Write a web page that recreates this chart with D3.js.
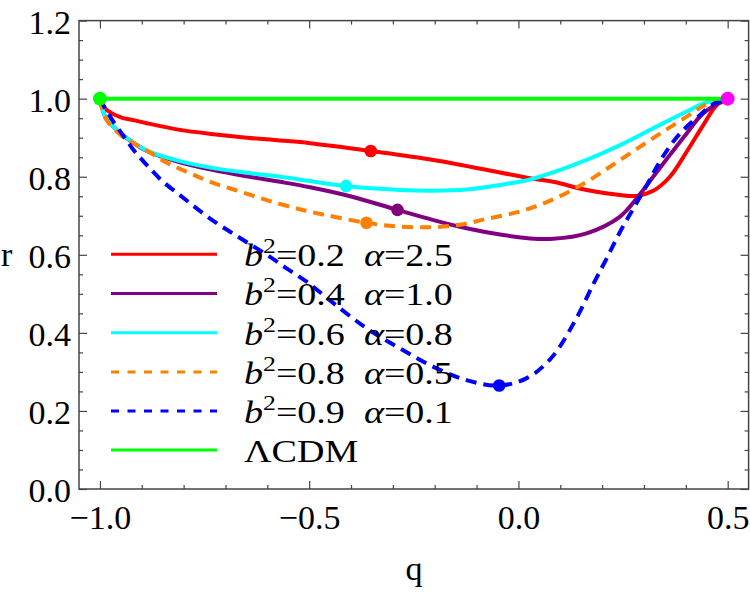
<!DOCTYPE html>
<html><head><meta charset="utf-8">
<script src="https://cdn.jsdelivr.net/npm/d3@7"></script>
<style>body{margin:0;background:#fff}svg{display:block}text{font-family:"Liberation Serif","Times New Roman",serif;fill:#000}</style>
</head><body>
<svg id="c" width="750" height="592"></svg>
<script>
// ---- data (q, r) ----
const redPts = [[-1,1],[-0.99,0.978],[-0.98,0.968],[-0.95,0.952],[-0.92,0.945],[-0.888,0.937],[-0.809,0.920],[-0.729,0.909],[-0.649,0.900],[-0.570,0.893],[-0.498,0.886],[-0.353,0.866],[-0.203,0.843],[-0.044,0.811],[0.028,0.796],[0.083,0.787],[0.163,0.766],[0.243,0.753],[0.283,0.751],[0.322,0.764],[0.362,0.800],[0.402,0.864],[0.442,0.933],[0.474,0.984],[0.5,1]];
const purplePts = [[-1,1],[-0.99,0.960],[-0.98,0.943],[-0.95,0.911],[-0.92,0.887],[-0.888,0.866],[-0.809,0.837],[-0.729,0.817],[-0.649,0.801],[-0.570,0.787],[-0.498,0.773],[-0.402,0.750],[-0.289,0.715],[-0.203,0.689],[-0.124,0.668],[-0.044,0.652],[0.028,0.642],[0.083,0.641],[0.163,0.655],[0.243,0.698],[0.283,0.745],[0.322,0.800],[0.362,0.856],[0.402,0.911],[0.442,0.963],[0.5,1]];
const cyanPts = [[-1,1],[-0.99,0.960],[-0.98,0.943],[-0.95,0.911],[-0.92,0.888],[-0.888,0.867],[-0.809,0.840],[-0.729,0.822],[-0.649,0.810],[-0.570,0.800],[-0.498,0.789],[-0.412,0.776],[-0.283,0.766],[-0.203,0.764],[-0.124,0.767],[-0.044,0.779],[0.028,0.793],[0.083,0.811],[0.163,0.843],[0.243,0.881],[0.322,0.924],[0.402,0.967],[0.450,0.991],[0.5,1]];
const orangePts = [[-1,1],[-0.99,0.957],[-0.98,0.939],[-0.96,0.916],[-0.944,0.901],[-0.888,0.867],[-0.840,0.836],[-0.785,0.809],[-0.729,0.784],[-0.665,0.762],[-0.601,0.740],[-0.538,0.721],[-0.496,0.710],[-0.363,0.682],[-0.283,0.672],[-0.203,0.671],[-0.140,0.677],[-0.076,0.692],[0.004,0.711],[0.083,0.742],[0.163,0.787],[0.243,0.843],[0.322,0.899],[0.402,0.954],[0.450,0.986],[0.5,1]];
const bluePts = [[-1,1],[-0.99,0.980],[-0.98,0.962],[-0.968,0.941],[-0.944,0.905],[-0.920,0.869],[-0.888,0.830],[-0.849,0.787],[-0.809,0.753],[-0.769,0.719],[-0.729,0.687],[-0.689,0.659],[-0.649,0.632],[-0.601,0.600],[-0.554,0.565],[-0.506,0.531],[-0.442,0.476],[-0.363,0.412],[-0.283,0.360],[-0.203,0.313],[-0.124,0.279],[-0.046,0.265],[0.020,0.284],[0.078,0.335],[0.135,0.430],[0.179,0.525],[0.211,0.591],[0.243,0.659],[0.275,0.719],[0.307,0.779],[0.338,0.839],[0.370,0.890],[0.402,0.928],[0.434,0.958],[0.462,0.984],[0.5,1]];
const lcdmPts = [[-1,1],[0.5,1]];
const markQ = [-0.353,-0.289,-0.412,-0.363,-0.046];
const markR = [0.866,0.715,0.776,0.682,0.265];
const labelsB = ["0.2","0.4","0.6","0.8","0.9"];
const labelsA = ["2.5","1.0","0.8","0.5","0.1"];
const colors = ["#ff0000","#800080","#00ffff","#ff8000","#0000ff","#00ff00"];
const dashed = [false,false,false,true,true,false];
const xMajor = [-1,-0.5,0,0.5];
const yMajor = [0,0.2,0.4,0.6,0.8,1.0,1.2];

const svg = d3.select("#c");
const L=79, R=748.6, T=20.6, B=489;
const x = d3.scaleLinear().domain([-1.05,0.55]).range([L,R]);
const y = d3.scaleLinear().domain([0,1.2]).range([B,T]);

const xMinor = d3.range(-10,6).map(i=>i/10).filter(v=>!xMajor.some(m=>Math.abs(m-v)<1e-9));
const yMinor = d3.range(0,25).map(i=>i/20).filter(v=>!yMajor.some(m=>Math.abs(m-v)<1e-9));

function styleAxis(g){ g.select(".domain").remove(); g.selectAll("line").attr("stroke","#444").attr("stroke-width",1.2); }
const fmt = d3.format(".1f");
// bottom
svg.append("g").attr("transform",`translate(0,${B})`).call(d3.axisBottom(x).tickValues(xMajor).tickFormat(fmt).tickSize(-8).tickPadding(16)).call(styleAxis)
  .selectAll("text").attr("font-size",34).attr("font-family","Liberation Serif").attr("fill","#000");
svg.append("g").attr("transform",`translate(0,${B})`).call(d3.axisBottom(x).tickValues(xMinor).tickFormat("").tickSize(-4)).call(styleAxis);
// top
svg.append("g").attr("transform",`translate(0,${T})`).call(d3.axisTop(x).tickValues(xMajor).tickFormat("").tickSize(-8)).call(styleAxis);
svg.append("g").attr("transform",`translate(0,${T})`).call(d3.axisTop(x).tickValues(xMinor).tickFormat("").tickSize(-4)).call(styleAxis);
// left
svg.append("g").attr("transform",`translate(${L},0)`).call(d3.axisLeft(y).tickValues(yMajor).tickFormat(fmt).tickSize(-8).tickPadding(8)).call(styleAxis)
  .selectAll("text").attr("font-size",34).attr("font-family","Liberation Serif").attr("fill","#000").attr("dy","0.38em");
svg.append("g").attr("transform",`translate(${L},0)`).call(d3.axisLeft(y).tickValues(yMinor).tickFormat("").tickSize(-4)).call(styleAxis);
// right
svg.append("g").attr("transform",`translate(${R},0)`).call(d3.axisRight(y).tickValues(yMajor).tickFormat("").tickSize(-8)).call(styleAxis);
svg.append("g").attr("transform",`translate(${R},0)`).call(d3.axisRight(y).tickValues(yMinor).tickFormat("").tickSize(-4)).call(styleAxis);
// frame
svg.append("rect").attr("x",L).attr("y",T).attr("width",R-L).attr("height",B-T).attr("fill","none").attr("stroke","#444").attr("stroke-width",1.5);

// axis titles
svg.append("text").attr("x",414).attr("y",580).attr("text-anchor","middle").attr("font-size",34).text("q");
svg.append("text").attr("x",1).attr("y",266).attr("font-size",34).text("r");

// curves
const line = d3.line().x(d=>x(d[0])).y(d=>y(d[1])).curve(d3.curveCatmullRom.alpha(0.5));
const series = [redPts,purplePts,cyanPts,orangePts,bluePts,lcdmPts];
series.forEach((pts,i)=>{
  svg.append("path").datum(pts).attr("d",line).attr("fill","none").attr("stroke",colors[i])
    .attr("stroke-width",4).attr("stroke-dasharray",dashed[i]?"11,7":null);
});
// markers
markQ.forEach((q,i)=>{
  svg.append("circle").attr("cx",x(q)).attr("cy",y(markR[i])).attr("r",6.3).attr("fill",colors[i]);
});
svg.append("circle").attr("cx",x(-1)).attr("cy",y(1)).attr("r",7).attr("fill","#00ff00");
svg.append("circle").attr("cx",x(0.5)).attr("cy",y(1)).attr("r",7).attr("fill","#ff00ff");

// legend
const rowY = [254.3,293.5,332.7,372,411,450];
const lg = svg.append("g");
rowY.forEach((ry,i)=>{
  lg.append("line").attr("x1",111).attr("x2",217).attr("y1",ry).attr("y2",ry).attr("stroke",colors[i])
    .attr("stroke-width",3).attr("stroke-dasharray",dashed[i]?"8,8.5":null);
  const t = lg.append("text").attr("class","lt").attr("x",244).attr("y",ry+12).attr("font-size",31);
  if(i<5){
    t.append("tspan").attr("font-style","italic").text("b");
    t.append("tspan").attr("font-size",21).attr("dy",-13).text("2");
    t.append("tspan").attr("dy",13).text("=" + labelsB[i] + "\u00a0\u00a0");
    t.append("tspan").attr("font-style","italic").text("\u03b1");
    t.append("tspan").text("=" + labelsA[i]);
  } else {
    t.text("\u039bCDM");
  }
});
// stretch legend text to match measured width
const w0 = lg.select("text.lt").node().getComputedTextLength();
const sx = 209 / w0;
lg.selectAll("text.lt").attr("transform",function(){ return `translate(${244*(1-sx)},0) scale(${sx},1)`; });
</script>
</body></html>
